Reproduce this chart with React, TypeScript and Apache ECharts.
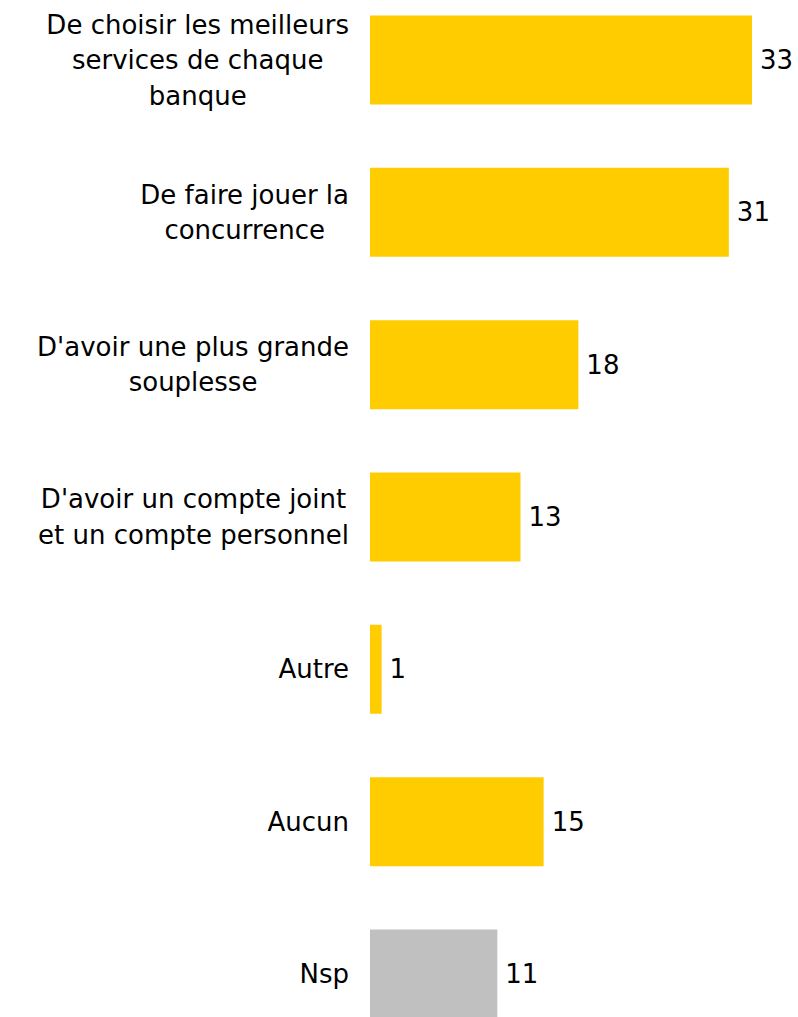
import React, { useEffect, useRef } from "react";
import * as echarts from "echarts";

const categories = [
  "De choisir les meilleurs\nservices de chaque\nbanque",
  "De faire jouer la\nconcurrence",
  "D'avoir une plus grande\nsouplesse",
  "D'avoir un compte joint\net un compte personnel",
  "Autre",
  "Aucun",
  "Nsp",
];
const values = [33, 31, 18, 13, 1, 15, 11];
const barColors = ["#FFCC00", "#FFCC00", "#FFCC00", "#FFCC00", "#FFCC00", "#FFCC00", "#C0C0C0"];

const FONT = "DejaVu Sans, Verdana, sans-serif";

export default function App() {
  const ref = useRef<HTMLDivElement>(null);
  useEffect(() => {
    if (!ref.current) return;
    const chart = echarts.init(ref.current, null, { renderer: "svg" });
    chart.setOption({
      animation: false,
      grid: { left: 370, top: 60, width: 405.15, height: 914, containLabel: false },
      xAxis: {
        type: "value",
        min: 0,
        max: 35,
        show: false,
      },
      yAxis: {
        type: "category",
        inverse: true,
        boundaryGap: false,
        data: categories,
        axisLine: { show: false },
        axisTick: { show: false },
        splitLine: { show: false },
        axisLabel: {
          margin: 21,
          align: "right",
          color: "#000",
          fontFamily: FONT,
          fontSize: 26,
          lineHeight: 35.5,
          formatter: (v: string) =>
            v
              .split("\n")
              .map((l) => `{c|${l}}`)
              .join("\n"),
          rich: {
            c: { align: "center", fontFamily: FONT, fontSize: 26, lineHeight: 35.5, color: "#000" },
          },
        },
      },
      series: [
        {
          type: "bar",
          barWidth: 89,
          clip: false,
          data: values.map((v, i) => ({ value: v, itemStyle: { color: barColors[i] } })),
          label: {
            show: true,
            position: "right",
            distance: 8,
            color: "#000",
            fontFamily: FONT,
            fontSize: 26,
          },
        },
      ],
    });
    return () => chart.dispose();
  }, []);
  return (
    <div
      ref={ref}
      style={{ position: "fixed", left: 0, top: 0, width: 798, height: 1017, background: "#fff" }}
    />
  );
}
